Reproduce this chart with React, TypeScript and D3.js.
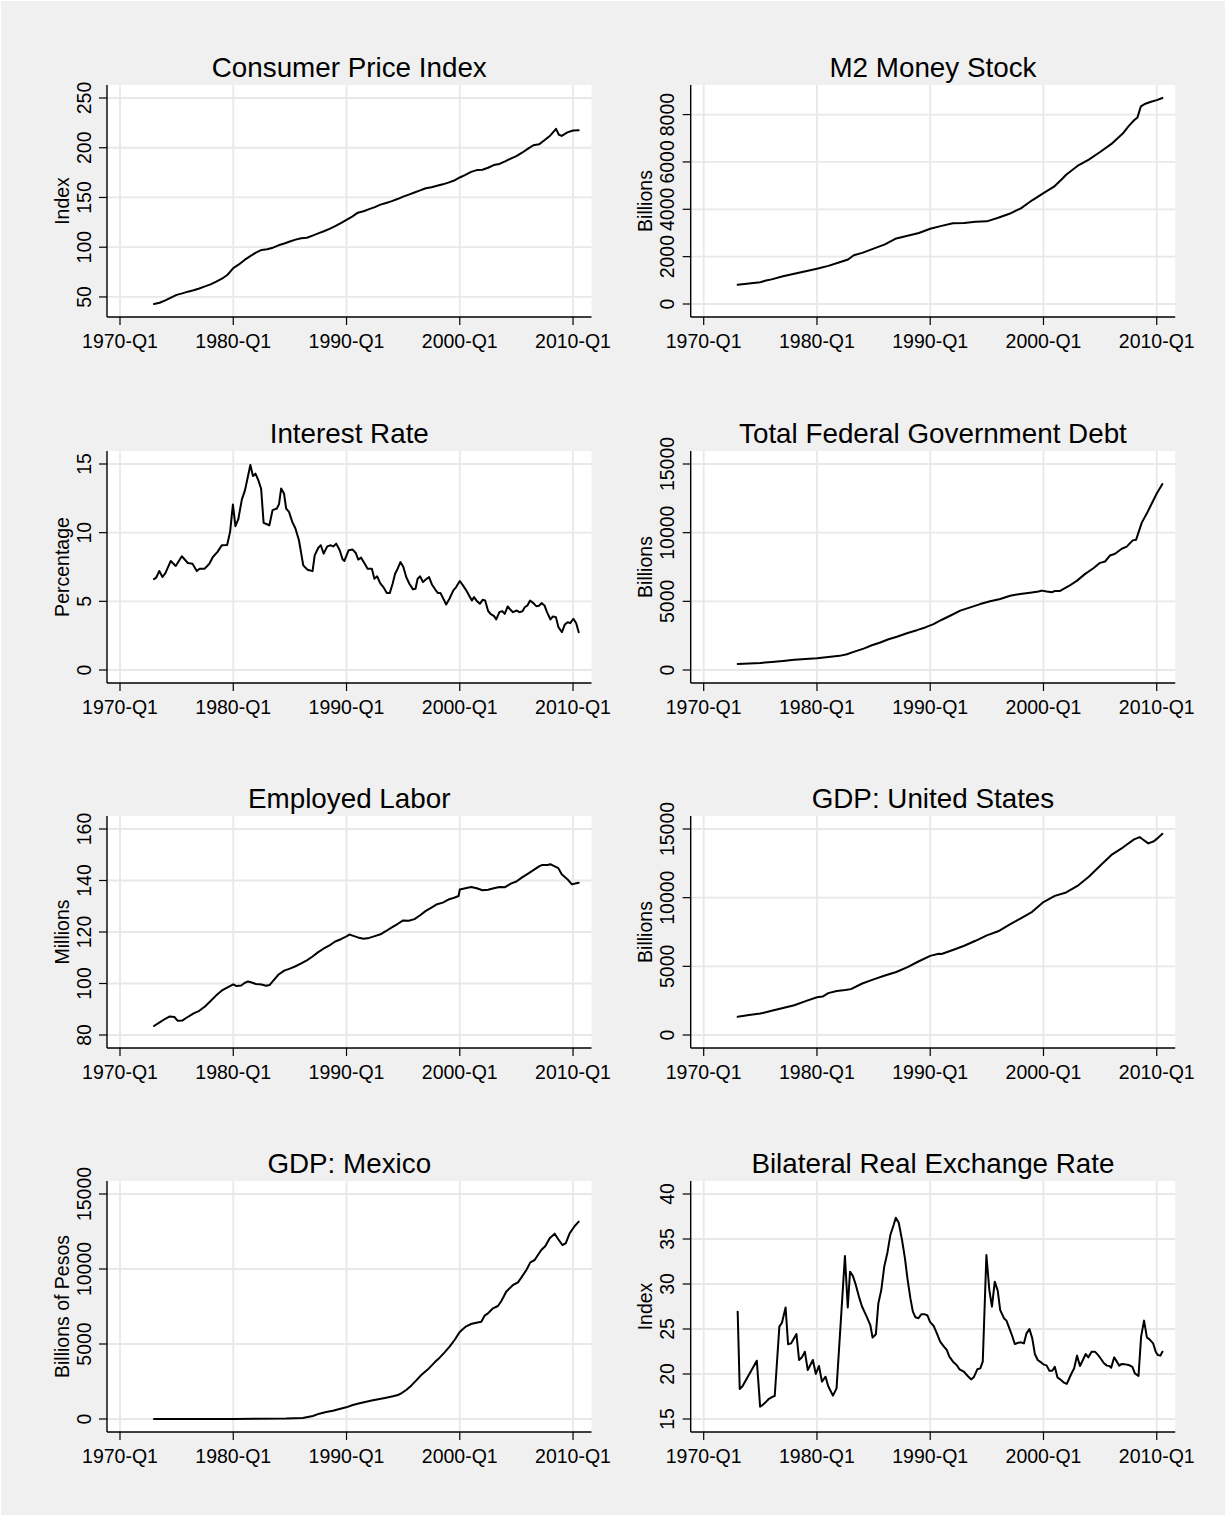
import React from 'react';
import * as d3 from 'd3';

// ---------- data (decimal year, value) ----------
const xTicks = [1970, 1980, 1990, 2000, 2010];
const xTickLabels = ['1970-Q1', '1980-Q1', '1990-Q1', '2000-Q1', '2010-Q1'];

const cpiTicks = [50, 100, 150, 200, 250];
const cpiData: [number, number][] = [
  [1973.0, 42.9], [1973.5, 44.2], [1974.0, 46.6], [1974.5, 49.4], [1975.0, 52.1], [1975.5, 53.6],
  [1976.0, 55.3], [1976.5, 56.7], [1977.0, 58.5], [1977.5, 60.6], [1978.0, 62.6], [1978.5, 65.3],
  [1979.0, 68.3], [1979.5, 72.3], [1980.0, 79.0], [1980.5, 82.7], [1981.0, 87.2], [1981.5, 91.0],
  [1982.0, 94.5], [1982.5, 97.3], [1983.0, 97.9], [1983.5, 99.5], [1984.0, 101.9], [1984.5, 103.7],
  [1985.0, 105.7], [1985.5, 107.6], [1986.0, 109.0], [1986.5, 109.5], [1987.0, 111.6], [1987.5, 113.9],
  [1988.0, 116.0], [1988.5, 118.5], [1989.0, 121.1], [1989.5, 124.3], [1990.0, 127.5], [1990.5, 130.8],
  [1991.0, 134.7], [1991.5, 136.2], [1992.0, 138.3], [1992.5, 140.3], [1993.0, 142.8], [1993.5, 144.5],
  [1994.0, 146.3], [1994.5, 148.4], [1995.0, 150.9], [1995.5, 152.9], [1996.0, 155.0], [1996.5, 157.1],
  [1997.0, 159.3], [1997.5, 160.3], [1998.0, 161.7], [1998.5, 163.2], [1999.0, 164.9], [1999.5, 167.0],
  [2000.0, 170.1], [2000.5, 172.8], [2001.0, 175.7], [2001.5, 177.5], [2002.0, 177.9], [2002.5, 179.9],
  [2003.0, 182.6], [2003.5, 183.7], [2004.0, 186.3], [2004.5, 189.1], [2005.0, 191.6], [2005.5, 195.0],
  [2006.0, 198.8], [2006.5, 202.5], [2007.0, 203.4], [2007.5, 207.7], [2008.0, 212.4], [2008.5, 219.0],
  [2008.75, 213.0], [2009.0, 211.9], [2009.5, 215.4], [2010.0, 217.3], [2010.5, 217.6],
];

const m2Ticks = [0, 2000, 4000, 6000, 8000];
const m2Data: [number, number][] = [
  [1973.0, 810], [1974.0, 870], [1975.0, 920], [1975.5, 990], [1976.0, 1040], [1977.0, 1170],
  [1978.0, 1280], [1979.0, 1380], [1980.0, 1490], [1981.0, 1610], [1982.0, 1760], [1982.75, 1880],
  [1983.25, 2060], [1984.0, 2160], [1985.0, 2340], [1986.0, 2520], [1987.0, 2770], [1988.0, 2880],
  [1989.0, 3000], [1990.0, 3180], [1991.0, 3300], [1992.0, 3410], [1993.0, 3420], [1994.0, 3470],
  [1995.0, 3490], [1996.0, 3640], [1997.0, 3810], [1998.0, 4040], [1999.0, 4380], [2000.0, 4680],
  [2001.0, 4980], [2001.75, 5330], [2002.0, 5460], [2003.0, 5830], [2004.0, 6100], [2005.0, 6420],
  [2006.0, 6760], [2007.0, 7200], [2007.5, 7500], [2008.0, 7760], [2008.3, 7880], [2008.6, 8350],
  [2009.0, 8460], [2009.5, 8540], [2010.0, 8610], [2010.5, 8700],
];

const rateTicks = [0, 5, 10, 15];
const rateData: [number, number][] = [
  [1973.0, 6.62], [1973.19, 6.72], [1973.47, 7.21], [1973.75, 6.77], [1974.01, 7.06], [1974.48, 7.94],
  [1974.92, 7.57], [1975.46, 8.28], [1975.99, 7.79], [1976.4, 7.74], [1976.78, 7.2], [1977.03, 7.38],
  [1977.48, 7.38], [1977.89, 7.74], [1978.2, 8.23], [1978.61, 8.6], [1978.99, 9.08], [1979.46, 9.1],
  [1979.72, 10.06], [1979.97, 12.05], [1980.19, 10.47], [1980.44, 10.96], [1980.76, 12.42], [1981.04, 13.1],
  [1981.29, 14.07], [1981.51, 14.93], [1981.74, 14.12], [1981.96, 14.3], [1982.21, 13.83], [1982.46, 13.2],
  [1982.68, 10.71], [1983.19, 10.54], [1983.47, 11.64], [1983.85, 11.76], [1984.04, 12.08], [1984.23, 13.22],
  [1984.48, 12.86], [1984.67, 11.76], [1984.92, 11.52], [1985.21, 10.79], [1985.49, 10.3], [1985.8, 9.45],
  [1986.18, 7.62], [1986.56, 7.3], [1987.0, 7.2], [1987.19, 8.35], [1987.51, 8.9], [1987.73, 9.08],
  [1987.98, 8.47], [1988.3, 9.0], [1988.61, 9.08], [1988.83, 9.0], [1989.09, 9.2], [1989.4, 8.72],
  [1989.65, 8.06], [1989.81, 7.94], [1990.19, 8.72], [1990.54, 8.77], [1990.82, 8.52], [1991.04, 8.04],
  [1991.29, 8.18], [1991.61, 7.74], [1991.86, 7.38], [1992.24, 7.38], [1992.46, 6.65], [1992.71, 6.82],
  [1992.97, 6.33], [1993.25, 6.04], [1993.56, 5.6], [1993.82, 5.6], [1994.07, 6.28], [1994.29, 7.01],
  [1994.45, 7.26], [1994.76, 7.86], [1995.02, 7.5], [1995.27, 6.77], [1995.55, 6.28], [1995.87, 5.87],
  [1996.09, 5.92], [1996.28, 6.65], [1996.5, 6.82], [1996.75, 6.4], [1996.97, 6.57], [1997.29, 6.77],
  [1997.54, 6.23], [1997.85, 5.84], [1998.08, 5.6], [1998.3, 5.6], [1998.55, 5.19], [1998.8, 4.77],
  [1999.09, 5.19], [1999.43, 5.8], [1999.68, 6.04], [2000.0, 6.48], [2000.28, 6.16], [2000.57, 5.8],
  [2000.82, 5.43], [2001.07, 5.06], [2001.26, 5.31], [2001.51, 5.02], [2001.77, 4.82], [2002.02, 5.11],
  [2002.24, 5.06], [2002.49, 4.33], [2002.71, 4.09], [2003.03, 3.92], [2003.22, 3.68], [2003.5, 4.21],
  [2003.75, 4.29], [2003.97, 4.09], [2004.23, 4.63], [2004.48, 4.38], [2004.7, 4.21], [2005.02, 4.33],
  [2005.27, 4.21], [2005.55, 4.29], [2005.74, 4.58], [2005.96, 4.68], [2006.21, 5.06], [2006.5, 4.87],
  [2006.75, 4.65], [2007.0, 4.68], [2007.22, 4.87], [2007.48, 4.7], [2007.7, 4.21], [2008.01, 3.68],
  [2008.23, 3.9], [2008.49, 3.85], [2008.71, 3.12], [2009.02, 2.75], [2009.27, 3.31], [2009.53, 3.48],
  [2009.75, 3.41], [2010.03, 3.73], [2010.28, 3.41], [2010.5, 2.75],
];

const debtTicks = [0, 5000, 10000, 15000];
const debtData: [number, number][] = [
  [1973.0, 440], [1974.0, 470], [1975.0, 510], [1976.0, 590], [1977.0, 660], [1978.0, 740],
  [1979.0, 800], [1980.0, 850], [1981.0, 940], [1982.0, 1030], [1982.65, 1150], [1983.24, 1320],
  [1984.12, 1560], [1984.85, 1800], [1985.59, 2000], [1986.32, 2240], [1987.06, 2420], [1987.94, 2680],
  [1988.82, 2900], [1989.56, 3100], [1990.29, 3340], [1991.03, 3660], [1991.76, 3950], [1992.65, 4320],
  [1993.53, 4560], [1994.41, 4800], [1995.29, 5000], [1996.18, 5170], [1997.06, 5410], [1997.94, 5540],
  [1998.82, 5630], [1999.56, 5710], [1999.85, 5780], [2000.29, 5710], [2000.74, 5660], [2001.03, 5760],
  [2001.47, 5760], [2002.21, 6100], [2002.94, 6490], [2003.68, 7000], [2004.41, 7410], [2004.94, 7780],
  [2005.44, 7900], [2005.88, 8340], [2006.32, 8460], [2006.91, 8830], [2007.35, 8980], [2007.88, 9440],
  [2008.18, 9490], [2008.68, 10730], [2009.12, 11390], [2009.56, 12120], [2010.0, 12850], [2010.5, 13540],
];

const laborTicks = [80, 100, 120, 140, 160];
const laborData: [number, number][] = [
  [1973.0, 83.5], [1973.5, 84.9], [1974.0, 86.3], [1974.4, 87.2], [1974.8, 87.0], [1975.1, 85.5],
  [1975.5, 85.6], [1975.8, 86.5], [1976.5, 88.4], [1977.0, 89.4], [1977.5, 91.1], [1978.0, 93.2],
  [1978.5, 95.4], [1979.0, 97.3], [1979.5, 98.5], [1980.0, 99.7], [1980.3, 99.0], [1980.7, 99.2],
  [1981.0, 100.2], [1981.3, 100.8], [1981.7, 100.3], [1982.0, 99.8], [1982.5, 99.6], [1982.9, 99.1],
  [1983.2, 99.4], [1983.5, 100.9], [1984.0, 103.5], [1984.5, 105.0], [1985.0, 105.8], [1985.5, 106.7],
  [1986.0, 107.8], [1986.5, 109.0], [1987.0, 110.5], [1987.5, 112.2], [1988.0, 113.6], [1988.5, 114.8],
  [1989.0, 116.3], [1989.5, 117.2], [1990.0, 118.3], [1990.25, 119.0], [1990.6, 118.5], [1991.0, 117.9],
  [1991.5, 117.4], [1992.0, 117.7], [1992.5, 118.4], [1993.0, 119.1], [1993.5, 120.4], [1994.0, 121.8],
  [1994.5, 123.1], [1995.0, 124.5], [1995.5, 124.4], [1996.0, 125.0], [1996.5, 126.5], [1997.0, 128.2],
  [1997.5, 129.5], [1998.0, 130.8], [1998.5, 131.4], [1999.0, 132.6], [1999.5, 133.3], [1999.9, 134.0],
  [2000.0, 136.5], [2000.5, 137.0], [2001.0, 137.5], [2001.5, 137.0], [2002.0, 136.2], [2002.5, 136.4],
  [2003.0, 137.0], [2003.5, 137.5], [2004.0, 137.4], [2004.5, 138.8], [2005.0, 139.6], [2005.5, 141.2],
  [2006.0, 142.6], [2006.5, 144.0], [2007.0, 145.5], [2007.25, 146.0], [2007.75, 146.0], [2008.0, 146.3],
  [2008.3, 145.7], [2008.7, 144.8], [2009.0, 142.4], [2009.5, 140.5], [2009.9, 138.5], [2010.2, 138.8],
  [2010.5, 139.1],
];

const usGdpTicks = [0, 5000, 10000, 15000];
const usGdpData: [number, number][] = [
  [1973.0, 1330], [1974.0, 1460], [1975.0, 1560], [1976.0, 1760], [1977.0, 1960], [1978.0, 2170],
  [1979.0, 2470], [1980.0, 2750], [1980.5, 2800], [1981.0, 3050], [1981.75, 3210], [1982.5, 3280],
  [1983.0, 3340], [1984.0, 3750], [1985.0, 4050], [1986.0, 4330], [1987.0, 4590], [1988.0, 4940],
  [1989.0, 5370], [1990.0, 5760], [1990.75, 5920], [1991.0, 5900], [1992.0, 6190], [1993.0, 6500],
  [1994.0, 6860], [1995.0, 7250], [1996.0, 7550], [1997.0, 8040], [1998.0, 8500], [1999.0, 8970],
  [2000.0, 9680], [2001.0, 10130], [2002.0, 10380], [2003.0, 10850], [2004.0, 11530], [2005.0, 12320],
  [2006.0, 13110], [2007.0, 13650], [2008.0, 14240], [2008.5, 14410], [2008.75, 14250], [2009.25, 13950],
  [2009.75, 14110], [2010.0, 14280], [2010.5, 14650],
];

const mxGdpTicks = [0, 5000, 10000, 15000];
const mxGdpData: [number, number][] = [
  [1973.0, 0.4], [1976.4, 1], [1980.0, 5], [1982.0, 10], [1984.67, 30], [1986.14, 67], [1987.03, 200],
  [1987.6, 355], [1988.2, 467], [1988.8, 555], [1989.38, 667], [1989.97, 778], [1990.56, 933],
  [1991.15, 1044], [1991.74, 1155], [1992.33, 1244], [1992.92, 1333], [1993.5, 1422], [1994.1, 1511],
  [1994.54, 1600], [1994.83, 1711], [1995.27, 1933], [1995.71, 2222], [1996.16, 2578], [1996.6, 2933],
  [1997.19, 3311], [1997.78, 3778], [1998.22, 4089], [1998.66, 4444], [1999.1, 4822], [1999.54, 5266],
  [1999.98, 5778], [2000.28, 6000], [2000.57, 6177], [2001.0, 6333], [2001.46, 6422], [2001.9, 6489],
  [2002.19, 6889], [2002.49, 7044], [2002.93, 7378], [2003.37, 7533], [2003.67, 7866], [2004.1, 8488],
  [2004.7, 8933], [2005.14, 9111], [2005.43, 9422], [2005.88, 9933], [2006.23, 10444], [2006.61, 10600],
  [2006.9, 10933], [2007.2, 11266], [2007.56, 11533], [2007.94, 12044], [2008.38, 12355], [2008.68, 12000],
  [2009.06, 11600], [2009.35, 11711], [2009.7, 12377], [2010.15, 12866], [2010.5, 13155],
];

const rerTicks = [15, 20, 25, 30, 35, 40];
const rerData: [number, number][] = [
  [1973.0, 26.93], [1973.18, 18.33], [1973.41, 18.6], [1974.69, 21.48], [1974.98, 16.37], [1975.2, 16.56],
  [1975.46, 16.85], [1975.72, 17.2], [1976.1, 17.48], [1976.27, 17.56], [1976.68, 25.26], [1976.91, 25.7],
  [1977.23, 27.4], [1977.45, 23.3], [1977.71, 23.4], [1978.19, 24.44], [1978.42, 21.56], [1978.67, 21.85],
  [1978.93, 22.48], [1979.19, 20.44], [1979.64, 21.56], [1979.9, 20.0], [1980.18, 20.89], [1980.44, 19.15],
  [1980.76, 19.7], [1980.99, 18.67], [1981.41, 17.6], [1981.73, 18.4], [1982.47, 33.11], [1982.72, 27.4],
  [1982.92, 31.37], [1983.17, 30.9], [1983.43, 29.9], [1983.75, 28.4], [1983.98, 27.5], [1984.39, 26.37],
  [1984.71, 25.44], [1984.91, 24.04], [1985.2, 24.41], [1985.42, 27.85], [1985.68, 29.33], [1985.94, 31.93],
  [1986.22, 33.48], [1986.48, 35.44], [1986.77, 36.56], [1986.96, 37.37], [1987.22, 36.8], [1987.51, 34.9],
  [1987.77, 32.85], [1987.99, 30.6], [1988.25, 28.4], [1988.47, 26.93], [1988.7, 26.3], [1988.96, 26.2],
  [1989.21, 26.63], [1989.53, 26.63], [1989.76, 26.5], [1989.98, 25.8], [1990.31, 25.33], [1990.56, 24.6],
  [1990.88, 23.6], [1991.21, 23.04], [1991.46, 22.67], [1991.69, 21.93], [1992.01, 21.37], [1992.33, 21.0],
  [1992.59, 20.52], [1992.97, 20.26], [1993.29, 19.81], [1993.61, 19.4], [1993.84, 19.63], [1994.16, 20.52],
  [1994.42, 20.63], [1994.64, 21.37], [1994.96, 33.22], [1995.22, 29.33], [1995.45, 27.48], [1995.7, 30.26],
  [1995.96, 29.26], [1996.18, 27.1], [1996.51, 26.2], [1996.73, 25.93], [1996.99, 25.07], [1997.24, 24.22],
  [1997.47, 23.33], [1997.79, 23.48], [1998.02, 23.52], [1998.27, 23.4], [1998.5, 24.52], [1998.76, 25.0],
  [1999.01, 23.96], [1999.24, 22.22], [1999.49, 21.56], [1999.82, 21.26], [2000.04, 21.04], [2000.27, 20.96],
  [2000.52, 20.37], [2000.78, 20.37], [2001.0, 20.8], [2001.23, 19.63], [2001.55, 19.33], [2001.81, 19.04],
  [2002.06, 18.9], [2002.45, 20.0], [2002.71, 20.63], [2002.96, 22.04], [2003.22, 20.89], [2003.48, 21.56],
  [2003.73, 22.22], [2003.96, 21.85], [2004.25, 22.48], [2004.54, 22.48], [2004.83, 22.1], [2005.08, 21.67],
  [2005.34, 21.2], [2005.6, 20.93], [2005.82, 20.89], [2005.98, 20.7], [2006.24, 21.85], [2006.47, 21.4],
  [2006.69, 20.93], [2006.88, 21.1], [2007.21, 21.07], [2007.53, 21.0], [2007.85, 20.8], [2008.07, 20.07],
  [2008.39, 19.78], [2008.62, 24.15], [2008.88, 25.93], [2009.13, 24.07], [2009.36, 23.85], [2009.68, 23.41],
  [2009.91, 22.48], [2010.1, 22.1], [2010.32, 22.04], [2010.5, 22.48],
];

const titles = [
  'Consumer Price Index', 'M2 Money Stock', 'Interest Rate', 'Total Federal Government Debt',
  'Employed Labor', 'GDP: United States', 'GDP: Mexico', 'Bilateral Real Exchange Rate',
];
const yTitles = ['Index', 'Billions', 'Percentage', 'Billions', 'Millions', 'Billions', 'Billions of Pesos', 'Index'];
const seriesList = [cpiData, m2Data, rateData, debtData, laborData, usGdpData, mxGdpData, rerData];
const tickList = [cpiTicks, m2Ticks, rateTicks, debtTicks, laborTicks, usGdpTicks, mxGdpTicks, rerTicks];

// ---------- layout ----------
const W = 1225;
const H = 1515;
const COL_X = [107, 690.7];
const PLOT_W = 484.5;
const ROW_Y = [85, 451, 816, 1181];
const ROW_H = [232, 232, 232, 251];
const PAD = 13;
const FONT = "'Liberation Sans', Arial, Helvetica, sans-serif";
const TICK_FS = 19.5;
const TITLE_FS = 27.8;

function Panel({ idx }: { idx: number }) {
  const col = idx % 2;
  const row = Math.floor(idx / 2);
  const left = COL_X[col];
  const top = ROW_Y[row];
  const h = ROW_H[row];
  const bottom = top + h;
  const right = left + PLOT_W;
  const data = seriesList[idx];
  const ticks = tickList[idx];

  const xMin = Math.min(xTicks[0], d3.min(data, (d) => d[0])!);
  const xMax = Math.max(xTicks[xTicks.length - 1], d3.max(data, (d) => d[0])!);
  const x = d3.scaleLinear().domain([xMin, xMax]).range([left + PAD, right - 12.8]);
  const yMin = Math.min(ticks[0], d3.min(data, (d) => d[1])!);
  const yMax = Math.max(ticks[ticks.length - 1], d3.max(data, (d) => d[1])!);
  const y = d3.scaleLinear().domain([yMin, yMax]).range([bottom - PAD, top + PAD]);

  const line = d3
    .line<[number, number]>()
    .x((d) => x(d[0]))
    .y((d) => y(d[1]));

  const cx = (left + right) / 2;

  return (
    <g>
      <rect x={left} y={top} width={PLOT_W} height={h} fill="#ffffff" />
      {xTicks.map((t) => (
        <line key={'gx' + t} x1={x(t)} x2={x(t)} y1={top} y2={bottom} stroke="#e8e8e8" strokeWidth={1.8} />
      ))}
      {ticks.map((t) => (
        <line key={'gy' + t} x1={left} x2={right} y1={y(t)} y2={y(t)} stroke="#e8e8e8" strokeWidth={1.8} />
      ))}
      <path d={line(data) || ''} fill="none" stroke="#000" strokeWidth={2} strokeLinejoin="round" strokeLinecap="round" />
      <line x1={left} x2={left} y1={top} y2={bottom} stroke="#000" strokeWidth={1.4} />
      <line x1={left} x2={right} y1={bottom} y2={bottom} stroke="#000" strokeWidth={1.4} />
      {ticks.map((t) => (
        <g key={'ty' + t}>
          <line x1={left - 8} x2={left} y1={y(t)} y2={y(t)} stroke="#000" strokeWidth={1.2} />
          <text
            transform={`translate(${left - 16.5},${y(t)}) rotate(-90)`}
            textAnchor="middle"
            fontSize={TICK_FS}
            fontFamily={FONT}
            fill="#000"
          >
            {t}
          </text>
        </g>
      ))}
      {xTicks.map((t, i) => (
        <g key={'tx' + t}>
          <line x1={x(t)} x2={x(t)} y1={bottom} y2={bottom + 8} stroke="#000" strokeWidth={1.2} />
          <text x={x(t)} y={bottom + 30.5} textAnchor="middle" fontSize={TICK_FS} fontFamily={FONT} fill="#000">
            {xTickLabels[i]}
          </text>
        </g>
      ))}
      <text
        transform={`translate(${left - 38.5},${(top + bottom) / 2}) rotate(-90)`}
        textAnchor="middle"
        fontSize={TICK_FS}
        fontFamily={FONT}
        fill="#000"
      >
        {yTitles[idx]}
      </text>
      <text x={cx} y={top - 8} textAnchor="middle" fontSize={TITLE_FS} fontFamily={FONT} fill="#000">
        {titles[idx]}
      </text>
    </g>
  );
}

export default function App() {
  return (
    <svg
      width={W}
      height={H}
      viewBox={`0 0 ${W} ${H}`}
      style={{ position: 'absolute', left: 0, top: 0, display: 'block' }}
    >
      <rect x={0} y={0} width={W} height={H} fill="#ffffff" />
      <rect x={1} y={1} width={W - 1} height={H - 1} fill="#f0f0f0" />
      {titles.map((_, i) => (
        <Panel key={i} idx={i} />
      ))}
    </svg>
  );
}
